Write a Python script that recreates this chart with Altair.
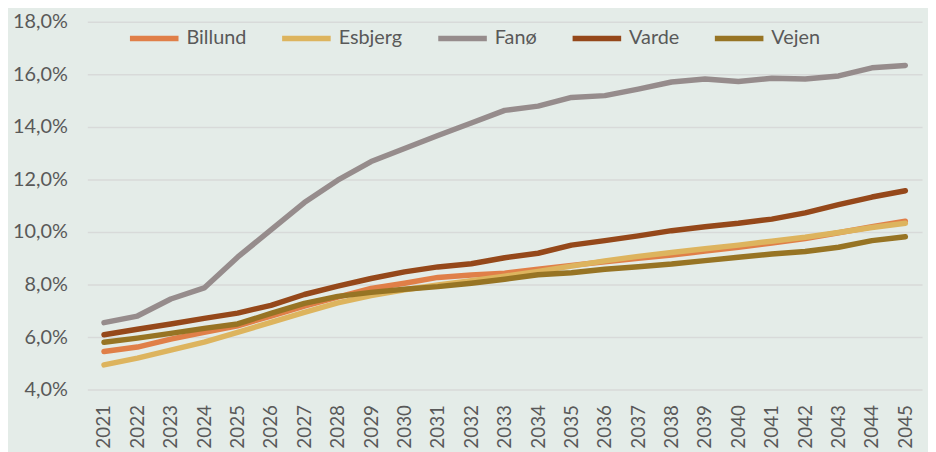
import altair as alt
import pandas as pd

years = [str(y) for y in range(2021, 2046)]
series = ["Billund", "Esbjerg", "Fanø", "Varde", "Vejen"]
colors = ["#E07F48", "#DDB45E", "#968C8C", "#95481A", "#977424"]

billund = [5.45, 5.62, 5.92, 6.18, 6.43, 6.80, 7.18, 7.52, 7.85, 8.05, 8.27, 8.36, 8.43,
           8.58, 8.73, 8.87, 9.00, 9.12, 9.27, 9.42, 9.58, 9.75, 9.97, 10.20, 10.41]
esbjerg = [4.94, 5.20, 5.50, 5.81, 6.18, 6.56, 6.94, 7.30, 7.58, 7.80, 7.98, 8.15, 8.32,
           8.50, 8.70, 8.90, 9.07, 9.22, 9.36, 9.50, 9.65, 9.80, 9.98, 10.17, 10.33]
fanoe = [6.55, 6.80, 7.45, 7.87, 9.04, 10.08, 11.12, 11.97, 12.68, 13.18, 13.67, 14.15, 14.63,
         14.79, 15.12, 15.19, 15.44, 15.71, 15.82, 15.73, 15.85, 15.82, 15.94, 16.25, 16.34]
varde = [6.09, 6.30, 6.50, 6.71, 6.91, 7.21, 7.62, 7.94, 8.23, 8.48, 8.67, 8.79, 9.02,
         9.19, 9.50, 9.67, 9.85, 10.05, 10.20, 10.33, 10.49, 10.73, 11.04, 11.33, 11.57]
vejen = [5.80, 5.96, 6.14, 6.33, 6.50, 6.90, 7.28, 7.55, 7.70, 7.82, 7.92, 8.05, 8.20,
         8.37, 8.45, 8.58, 8.68, 8.78, 8.91, 9.04, 9.16, 9.26, 9.42, 9.67, 9.82]
y_ticks = [4, 6, 8, 10, 12, 14, 16, 18]

rows = []
for name, vals in zip(series, [billund, esbjerg, fanoe, varde, vejen]):
    for yr, v in zip(years, vals):
        rows.append({"year": yr, "kommune": name, "value": v / 100})
df = pd.DataFrame(rows)

FONT = "Lato"
TXT = "#595959"

chart = alt.Chart(df).mark_line(strokeWidth=5.5, strokeCap="round", strokeJoin="round").encode(
    x=alt.X("year:O", sort=years, title=None,
            scale=alt.Scale(type="point", padding=0.5),
            axis=alt.Axis(labelAngle=-90, labelPadding=15, labelFontSize=19, labelColor=TXT,
                          labelFont=FONT, domain=False, ticks=False, grid=False)),
    y=alt.Y("value:Q", title=None,
            scale=alt.Scale(domain=[0.04, 0.18], nice=False, zero=False),
            axis=alt.Axis(values=[t / 100 for t in y_ticks],
                          labelExpr="replace(format(datum.value, '.1%'), '.', ',')",
                          labelPadding=20, labelFontSize=20, labelColor=TXT, labelFont=FONT,
                          domain=False, ticks=False, grid=True, gridColor="#D8DAD9",
                          gridWidth=1.5)),
    color=alt.Color("kommune:N", sort=series,
                    scale=alt.Scale(domain=series, range=colors),
                    legend=alt.Legend(title=None, orient="none", direction="horizontal",
                                      legendX=40, legendY=-11, symbolType="stroke",
                                      symbolSize=2400, symbolStrokeWidth=5.5,
                                      labelFontSize=20, labelFont=FONT, labelColor=TXT,
                                      labelOffset=5, columnPadding=24.5, padding=0)),
).properties(
    width=842, height=371,
    autosize=alt.AutoSizeParams(type="none"),
    padding={"left": 80, "top": 12, "right": 6, "bottom": 61},
).configure(background="#E4ECE8").configure_view(stroke=None)

chart.save("out.html", embed_options={"renderer": "svg", "actions": False})
